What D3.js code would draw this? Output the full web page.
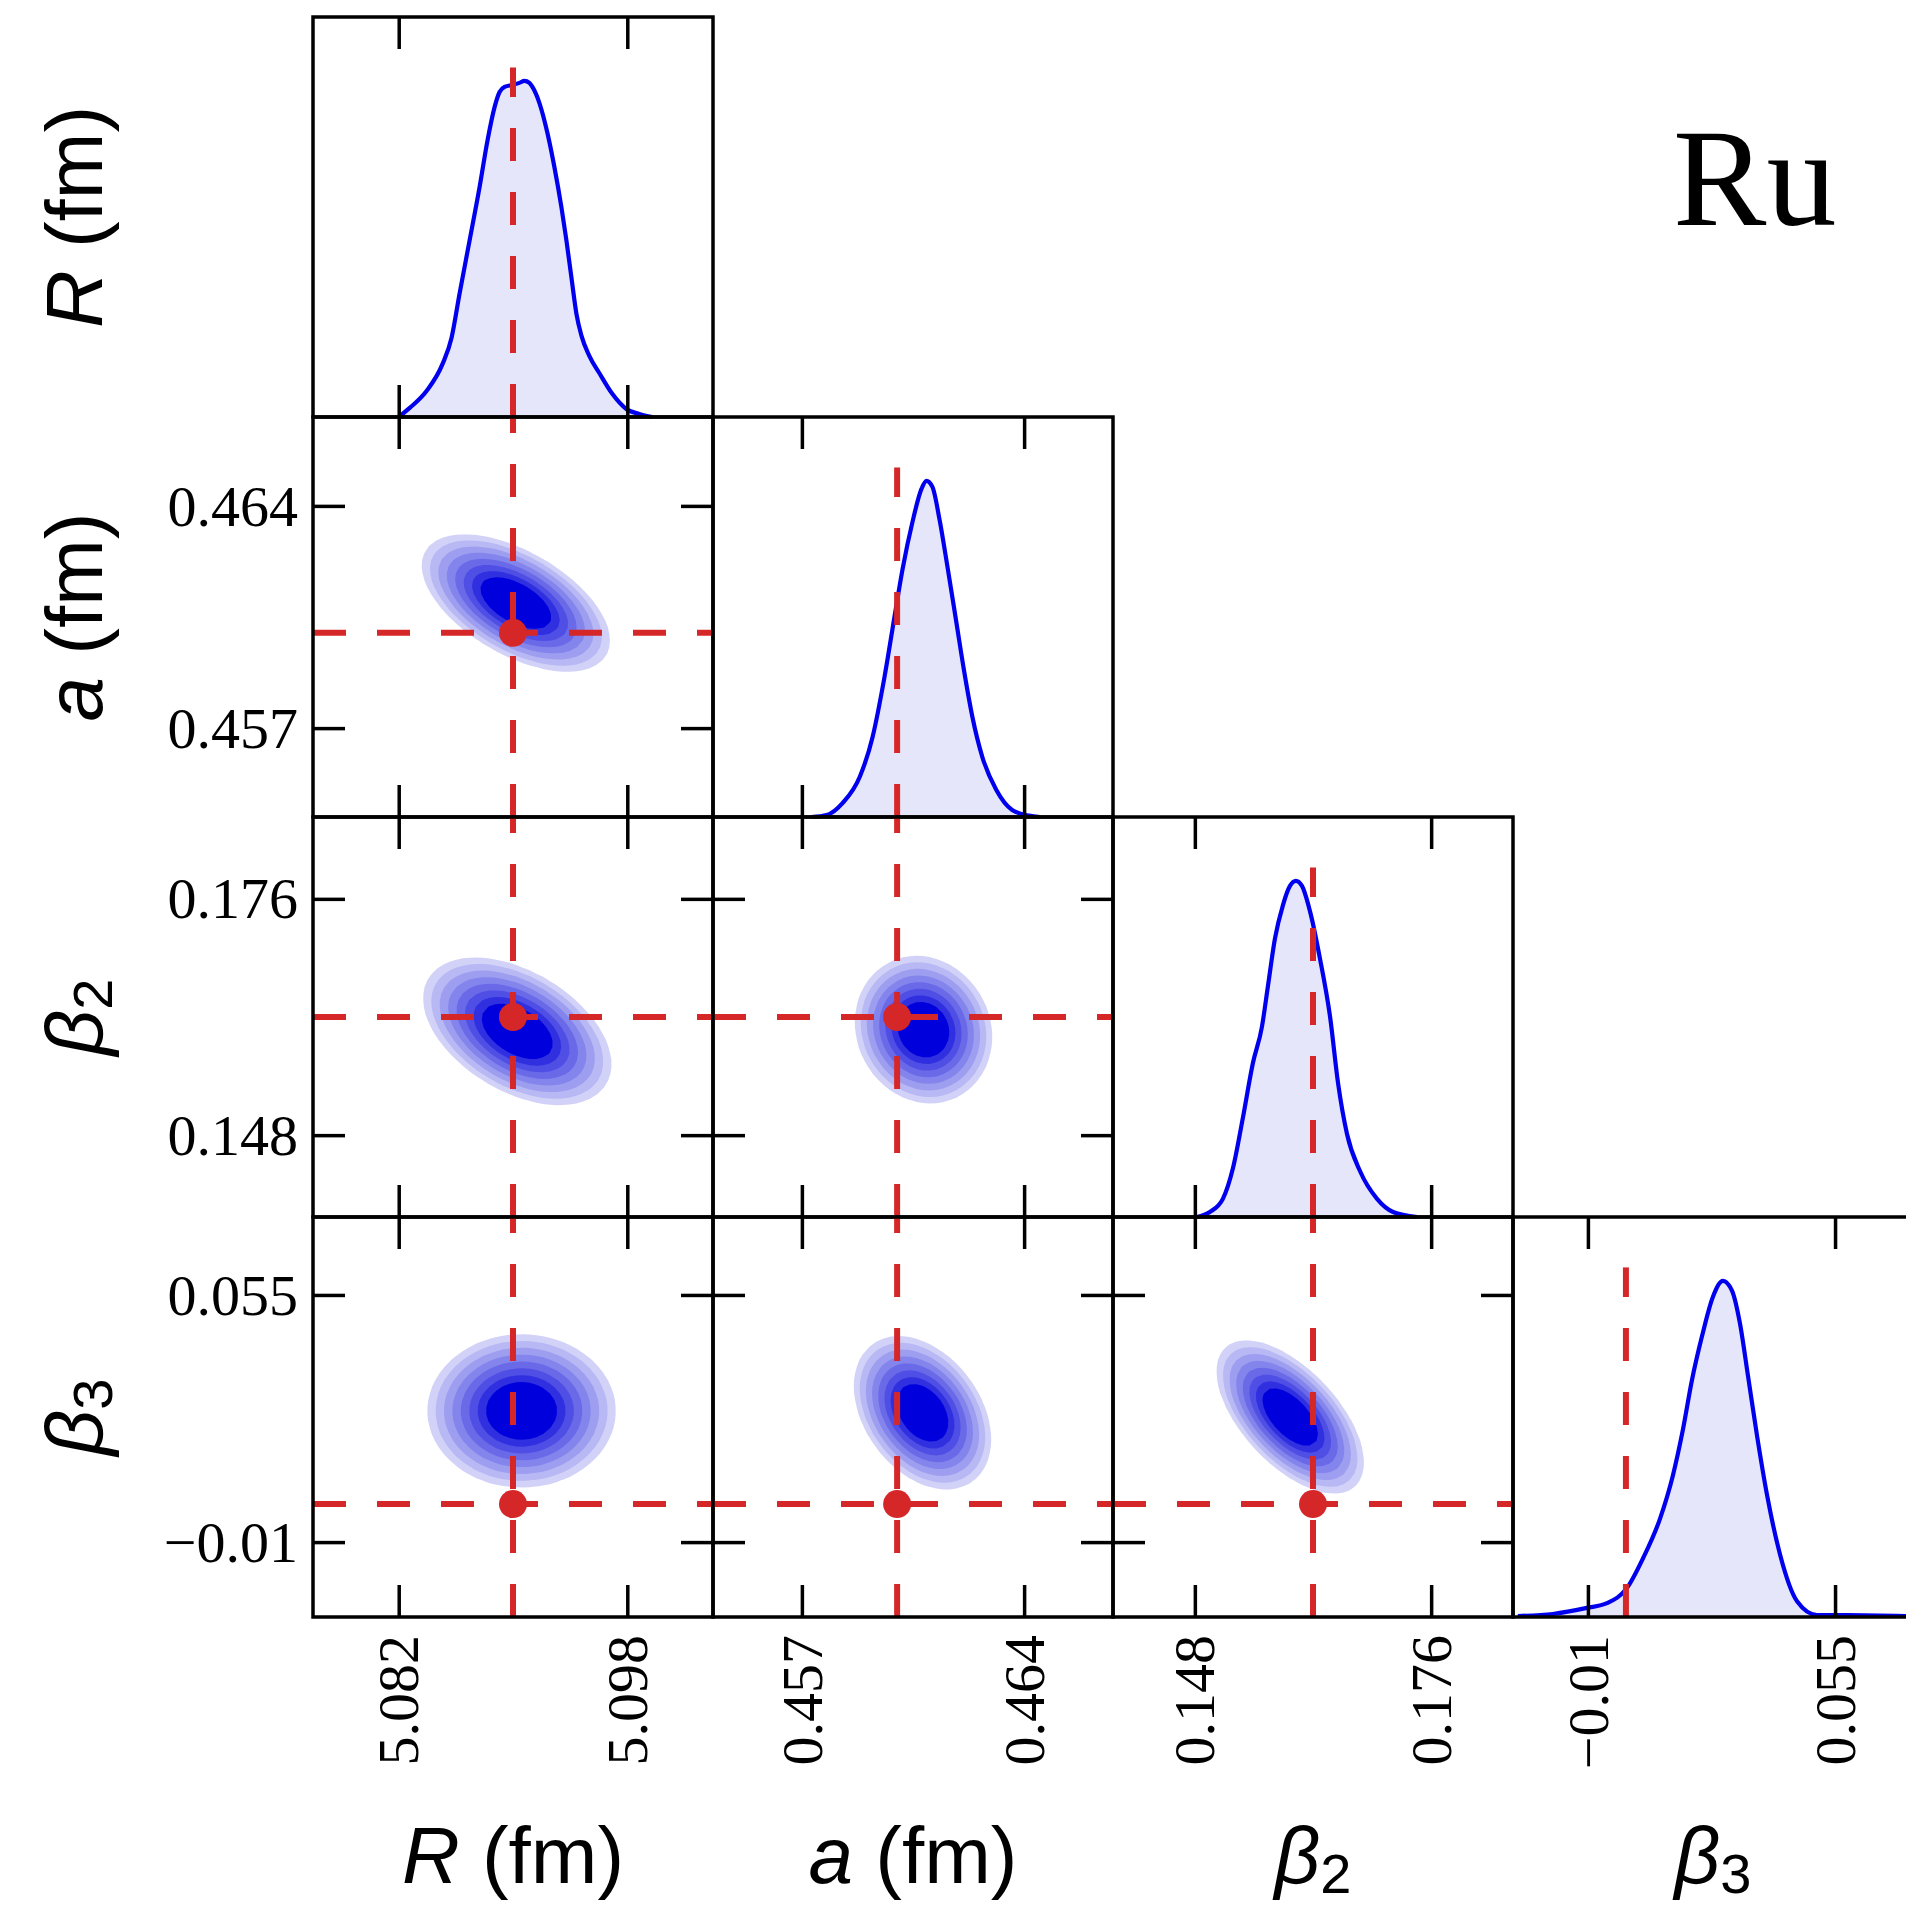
<!DOCTYPE html>
<html>
<head>
<meta charset="utf-8">
<script src="https://cdn.jsdelivr.net/npm/d3@7"></script>
<style>
body { margin: 0; background: #fff; }
svg { display: block; }
</style>
</head>
<body>
<svg id="fig" width="1906" height="1905"></svg>
<script>
// axis limits, ticks and truth values, one entry per parameter (R, a, beta2, beta3)
var limits = [[5.076, 5.104], [0.4542, 0.4668], [0.1383, 0.1857], [-0.0297, 0.0755]]
var ticks = [[5.082, 5.098], [0.457, 0.464], [0.148, 0.176], [-0.01, 0.055]]
var tickLabels = [["5.082", "5.098"], ["0.457", "0.464"], ["0.148", "0.176"], ["\u22120.01", "0.055"]]
var truth = [5.09, 0.46, 0.162, 0.0]

// 1D marginals: [value, density relative to peak]
var kdeR = [[5.08200, 0.0], [5.08277, 0.027], [5.08396, 0.078], [5.08507, 0.158], [5.08570, 0.236],
    [5.08626, 0.367], [5.08696, 0.525], [5.08766, 0.684], [5.08822, 0.824], [5.08871, 0.922],
    [5.08906, 0.967], [5.08941, 0.982], [5.08997, 0.988], [5.09045, 0.994], [5.09080, 1.0],
    [5.09115, 0.994], [5.09136, 0.982], [5.09185, 0.934], [5.09241, 0.845], [5.09290, 0.743],
    [5.09339, 0.624], [5.09374, 0.525], [5.09409, 0.415], [5.09444, 0.307], [5.09479, 0.242],
    [5.09534, 0.182], [5.09604, 0.131], [5.09695, 0.069], [5.09793, 0.024], [5.09884, 0.009],
    [5.09975, 0.0]]
var kdeA = [[0.45730, 0.0], [0.457785, 0.006], [0.458287, 0.042], [0.458821, 0.119], [0.459229, 0.239], [0.459605, 0.418],
    [0.459919, 0.597], [0.460170, 0.737], [0.460484, 0.878], [0.460767, 0.976], [0.460924, 1.0],
    [0.461112, 0.982], [0.461332, 0.887], [0.461583, 0.746], [0.461866, 0.579], [0.462117, 0.430],
    [0.462368, 0.299], [0.462682, 0.179], [0.463121, 0.081], [0.463623, 0.021], [0.464157, 0.004],
    [0.46450, 0.0]]
var kdeB2 = [[0.14824, 0.0], [0.14978, 0.015], [0.15132, 0.054], [0.15251, 0.145], [0.15369, 0.295],
    [0.15488, 0.458], [0.15595, 0.566], [0.15666, 0.687], [0.15749, 0.828], [0.15844, 0.928],
    [0.15927, 0.985], [0.15998, 1.0], [0.16069, 0.985], [0.16164, 0.910], [0.16283, 0.768],
    [0.16402, 0.596], [0.16497, 0.398], [0.16603, 0.247], [0.16758, 0.136], [0.16959, 0.054],
    [0.17149, 0.015], [0.17434, 0.0]]
var kdeB3 = [[-0.02842, 0.003], [-0.01921, 0.009], [-0.01026, 0.027], [-0.00500, 0.041], [0.00026, 0.086],
    [0.00447, 0.174], [0.00895, 0.292], [0.01237, 0.422], [0.01500, 0.558], [0.01737, 0.705],
    [0.02000, 0.835], [0.02289, 0.953], [0.02553, 1.0], [0.02789, 0.971], [0.03000, 0.873],
    [0.03211, 0.717], [0.03447, 0.540], [0.03711, 0.363], [0.04053, 0.186], [0.04500, 0.047],
    [0.05026, 0.006], [0.05816, 0.006], [0.07368, 0.003]]
var marginals = [kdeR, kdeA, kdeB2, kdeB3]

// 2D posteriors, one entry per lower panel: [row, col], mode, spread, correlation
var pairs = [[1, 0], [2, 0], [2, 1], [3, 0], [3, 1], [3, 2]]
var modes = [[5.0902, 0.46094], [5.0903, 0.1603], [0.46083, 0.1605], [5.0906, 0.0245], [0.4608, 0.0240], [0.1593, 0.0229]]
var spreads = [0.00293, 0.00096, 0.00388, 0.00895]
var rhos = [-0.55, -0.45, -0.1, 0.0, -0.35, -0.6]

// filled contour levels (fraction of peak) and their colours
var levels = [0.08, 0.122, 0.18, 0.256, 0.349, 0.458, 0.576, 0.697]
var levelColors = ["#d2d2f8", "#b8b8f4", "#9e9ef0", "#8484ed", "#6a6ae9", "#4f4fe5", "#3030e1", "#0000dc"]

var rowLabels = [["R", " (fm)", ""], ["a", " (fm)", ""], ["\u03b2", "", "2"], ["\u03b2", "", "3"]]

var size = 400
var ox = 313, oy = 17
var tickLen = 32
var red = "#d62728"
var serif = "'Liberation Serif', 'Times New Roman', serif"
var sans = "'Liberation Sans', Arial, Helvetica, sans-serif"

var svg = d3.select("#fig")

function xScale(j) {
    return d3.scaleLinear().domain(limits[j]).range([0, size])
}
function yScale(i) {
    return d3.scaleLinear().domain(limits[i]).range([size, 0])
}

function styleAxis(g) {
    g.select(".domain").remove()
    g.selectAll(".tick line").attr("stroke", "#000").attr("stroke-width", 3.5)
    g.selectAll("text").attr("fill", "#000").style("font-family", serif).style("font-size", "58px")
}

function drawFrame(g, i, j, diag) {
    var xs = xScale(j)
    var bottom = g.append("g")
        .attr("transform", "translate(0," + size + ")")
        .call(d3.axisBottom(xs).tickValues(ticks[j]).tickSize(-tickLen)
            .tickFormat(i == 3 ? (d, k) => tickLabels[j][k] : ""))
    styleAxis(bottom)
    if (i == 3) {
        bottom.selectAll("text")
            .attr("transform", "rotate(-90)")
            .attr("x", -18).attr("y", 0).attr("dy", "0.33em")
            .style("text-anchor", "end")
    }
    styleAxis(g.append("g").call(d3.axisTop(xs).tickValues(ticks[j]).tickSize(-tickLen).tickFormat("")))

    if (!diag) {
        var ys = yScale(i)
        var left = g.append("g")
            .call(d3.axisLeft(ys).tickValues(ticks[i]).tickSize(-tickLen).tickPadding(15)
                .tickFormat(j == 0 ? (d, k) => tickLabels[i][k] : ""))
        styleAxis(left)
        left.selectAll("text").attr("dy", "0.33em")
        styleAxis(g.append("g")
            .attr("transform", "translate(" + size + ",0)")
            .call(d3.axisRight(ys).tickValues(ticks[i]).tickSize(-tickLen).tickFormat("")))
    }

    g.append("rect")
        .attr("width", size).attr("height", size)
        .attr("fill", "none").attr("stroke", "#000").attr("stroke-width", 3.5)
}

// diagonal panels: 1D marginals
marginals.forEach(function (kde, k) {
    var g = svg.append("g").attr("transform", "translate(" + (ox + k * size) + "," + (oy + k * size) + ")")
    var xs = xScale(k)
    var ys = d3.scaleLinear().domain([0, 1.19]).range([size, 0])

    g.append("path")
        .datum(kde)
        .attr("fill", "#e6e6fa")
        .attr("d", d3.area().curve(d3.curveMonotoneX).x(d => xs(d[0])).y0(ys(0)).y1(d => ys(d[1])))
    g.append("path")
        .datum(kde)
        .attr("fill", "none")
        .attr("stroke", "#0000ee")
        .attr("stroke-width", 4.2)
        .attr("d", d3.line().curve(d3.curveMonotoneX).x(d => xs(d[0])).y(d => ys(d[1])))

    g.append("line")
        .attr("x1", xs(truth[k])).attr("x2", xs(truth[k]))
        .attr("y1", ys(0)).attr("y2", ys(1.04))
        .attr("stroke", red).attr("stroke-width", 6).attr("stroke-dasharray", "33,31")

    drawFrame(g, k, k, true)
})

// lower panels: 2D posteriors
var n = 60, cell = size / n
pairs.forEach(function (p, k) {
    var i = p[0], j = p[1]
    var g = svg.append("g").attr("transform", "translate(" + (ox + j * size) + "," + (oy + i * size) + ")")
    var xs = xScale(j), ys = yScale(i)
    var mx = modes[k][0], my = modes[k][1]
    var sx = spreads[j], sy = spreads[i], rho = rhos[k]

    var vals = new Array(n * n)
    for (var r = 0; r < n; r++) {
        for (var c = 0; c < n; c++) {
            var u = (xs.invert((c + 0.5) * cell) - mx) / sx
            var v = (ys.invert((r + 0.5) * cell) - my) / sy
            var q = (u * u - 2 * rho * u * v + v * v) / (1 - rho * rho)
            vals[r * n + c] = Math.exp(-q / 2)
        }
    }
    var contours = d3.contours().size([n, n]).thresholds(levels)(vals)
    var path = d3.geoPath(d3.geoIdentity().scale(cell))
    g.selectAll(".band")
        .data(contours)
        .enter().append("path")
        .attr("class", "band")
        .attr("d", path)
        .attr("fill", (d, idx) => levelColors[idx])

    g.append("line")
        .attr("x1", xs(truth[j])).attr("x2", xs(truth[j]))
        .attr("y1", size).attr("y2", 0)
        .attr("stroke", red).attr("stroke-width", 6).attr("stroke-dasharray", "33,31")
    g.append("line")
        .attr("x1", 0).attr("x2", size)
        .attr("y1", ys(truth[i])).attr("y2", ys(truth[i]))
        .attr("stroke", red).attr("stroke-width", 6).attr("stroke-dasharray", "33,31")
    g.append("circle")
        .attr("cx", xs(truth[j])).attr("cy", ys(truth[i]))
        .attr("r", 14).attr("fill", red)

    drawFrame(g, i, j, false)
})

// axis titles
function addLabel(t, parts) {
    t.append("tspan").style("font-style", "italic").text(parts[0])
    if (parts[1]) t.append("tspan").text(parts[1])
    if (parts[2]) t.append("tspan").attr("dy", "0.18em").style("font-size", "56px").text(parts[2])
}
rowLabels.forEach(function (lab, k) {
    var cx = ox + k * size + size / 2
    var cy = oy + k * size + size / 2
    addLabel(svg.append("text")
        .attr("transform", "translate(102," + cy + ") rotate(-90)")
        .attr("text-anchor", "middle")
        .style("font-family", sans).style("font-size", "80px"), lab)
    addLabel(svg.append("text")
        .attr("x", cx).attr("y", 1883)
        .attr("text-anchor", "middle")
        .style("font-family", sans).style("font-size", "80px"), lab)
})

svg.append("text")
    .attr("x", 1673).attr("y", 225)
    .style("font-family", serif).style("font-size", "140px")
    .text("Ru")
</script>
</body>
</html>
